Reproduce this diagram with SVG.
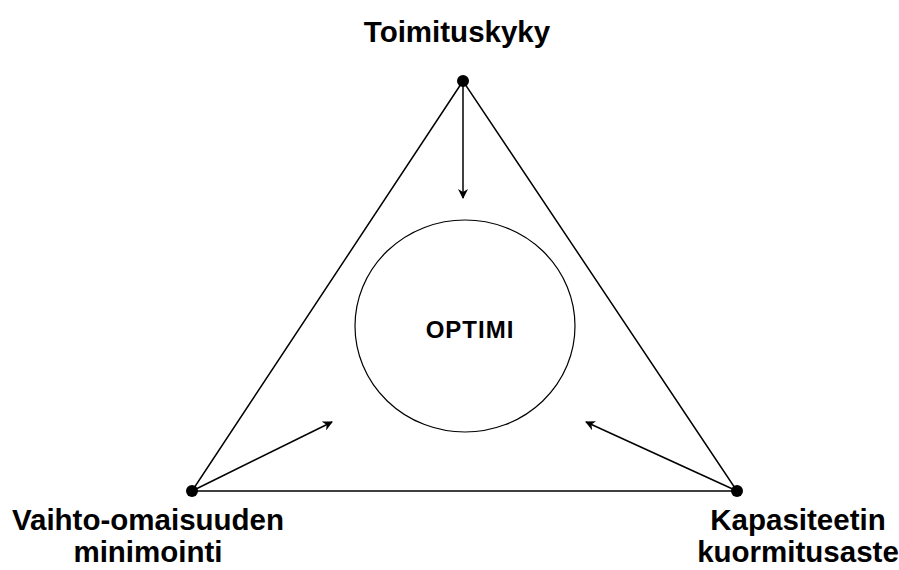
<svg xmlns="http://www.w3.org/2000/svg" width="899" height="570" viewBox="0 0 899 570">
  <style>
    .edge { fill: none; stroke: #000; stroke-width: 1.5; }
    .dot { fill: #000; }
    .lbl { font-family: "Liberation Sans", Arial, sans-serif; font-weight: bold; font-size: 29.5px; fill: #000; text-anchor: middle; }
    .core { font-family: "Liberation Sans", Arial, sans-serif; font-weight: bold; font-size: 24px; letter-spacing: 1px; fill: #000; text-anchor: middle; }
  </style>
  <defs>
    <marker id="arrow" viewBox="0 0 10 10" refX="9" refY="5" markerWidth="10" markerHeight="10" markerUnits="userSpaceOnUse" orient="auto">
      <path d="M0,0 L10,5 L0,10 L3,5 Z" fill="#000"/>
    </marker>
  </defs>
  <rect width="899" height="570" fill="#fff"/>

  <g id="connectors">
    <path class="edge" d="M463,81 L192,491 L737,491 Z"/>
    <line class="edge" x1="463" y1="81" x2="463" y2="198" marker-end="url(#arrow)"/>
    <line class="edge" x1="192" y1="491" x2="332" y2="422" marker-end="url(#arrow)"/>
    <line class="edge" x1="737" y1="491" x2="586" y2="422" marker-end="url(#arrow)"/>
  </g>

  <g id="optimi">
    <ellipse cx="465" cy="326" rx="110" ry="106" fill="none" stroke="#000" stroke-width="1.2"/>
    <text class="core" x="470" y="338">OPTIMI</text>
  </g>

  <g id="toimituskyky">
    <circle class="dot" cx="463" cy="81" r="6"/>
    <text class="lbl" x="457" y="42">Toimituskyky</text>
  </g>

  <g id="vaihto-omaisuus">
    <circle class="dot" cx="192" cy="491" r="6"/>
    <text class="lbl" x="148" y="530">Vaihto-omaisuuden</text>
    <text class="lbl" x="148" y="562">minimointi</text>
  </g>

  <g id="kapasiteetti">
    <circle class="dot" cx="737" cy="491" r="6"/>
    <text class="lbl" x="798" y="530">Kapasiteetin</text>
    <text class="lbl" x="798" y="562">kuormitusaste</text>
  </g>
</svg>
